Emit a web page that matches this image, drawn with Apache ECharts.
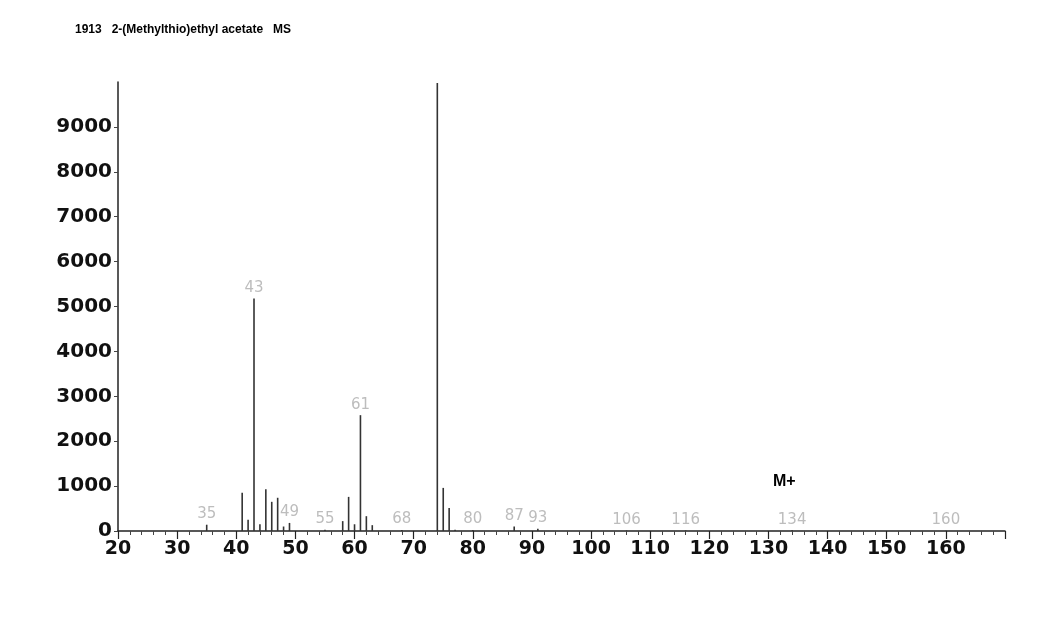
<!DOCTYPE html>
<html>
<head>
<meta charset="utf-8">
<script src="https://cdn.jsdelivr.net/npm/echarts@6/dist/echarts.min.js"></script>
<style>
html,body{margin:0;padding:0;background:#fff;}
#chart{width:1064px;height:635px;}
</style>
</head>
<body>
<div id="chart"></div>
<script>
// m/z values and intensities
const mz        = [35, 41, 42, 43, 44, 45, 46, 47, 48, 49, 55, 58, 59, 60, 61, 62, 63, 68, 74, 75, 76, 77, 80, 87, 91, 106, 116, 134, 160];
const intensity = [140, 850, 250, 5180, 150, 930, 650, 740, 100, 180, 30, 220, 760, 150, 2580, 330, 130, 20, 9980, 960, 510, 30, 20, 100, 50, 10, 10, 15, 5];
// peaks carrying a m/z label and the label text
const labelMz   = [35, 43, 49, 55, 61, 68, 80, 87, 91, 106, 116, 134, 160];
const labelText = ["35", "43", "49", "55", "61", "68", "80", "87", "93", "106", "116", "134", "160"];
const xTicks = [20, 30, 40, 50, 60, 70, 80, 90, 100, 110, 120, 130, 140, 150, 160];
const yTicks = [0, 1000, 2000, 3000, 4000, 5000, 6000, 7000, 8000, 9000];
const titleText = "1913   2-(Methylthio)ethyl acetate   MS";
const molIonText = "M+";

const data = mz.map((m, i) => {
  const li = labelMz.indexOf(m);
  const item = { value: [m, intensity[i]] };
  if (li >= 0) {
    item.label = { show: true, formatter: labelText[li] };
  }
  return item;
});

const chart = echarts.init(document.getElementById('chart'), null, { renderer: 'canvas' });
chart.setOption({
  animation: false,
  backgroundColor: '#ffffff',
  grid: { left: 118, right: 59, top: 82, bottom: 104, containLabel: false },
  xAxis: {
    type: 'value', min: 20, max: 170, interval: 10,
    axisLine: { show: true, onZero: false, lineStyle: { color: '#222', width: 1.5 } },
    axisTick: { show: true, inside: false, length: 8, lineStyle: { color: '#222', width: 1.2 } },
    minorTick: { show: true, splitNumber: 5, length: 4, lineStyle: { color: '#444', width: 1 } },
    splitLine: { show: false },
    axisLabel: {
      showMaxLabel: false, margin: 9,
      fontFamily: 'DejaVu Sans', fontWeight: 'bold', fontSize: 19, color: '#111',
      formatter: v => (xTicks.indexOf(v) >= 0 ? String(v) : '')
    }
  },
  yAxis: {
    type: 'value', min: 0, max: 10000, interval: 1000,
    axisLine: { show: true, lineStyle: { color: '#222', width: 1.5 } },
    axisTick: { show: true, inside: false, length: 4, lineStyle: { color: '#444', width: 1 } },
    splitLine: { show: false },
    axisLabel: {
      showMaxLabel: false, margin: 6,
      fontFamily: 'DejaVu Sans', fontWeight: 'bold', fontSize: 20, color: '#111',
      formatter: v => (yTicks.indexOf(v) >= 0 ? String(v) : '')
    }
  },
  series: [{
    type: 'bar',
    barWidth: 1.6,
    itemStyle: { color: '#333' },
    label: {
      show: false, position: 'top', distance: 3,
      fontFamily: 'DejaVu Sans', fontSize: 15, color: '#bdbdbd'
    },
    data: data
  }],
  graphic: [
    { type: 'text', left: 75, top: 24,
      style: { text: titleText, font: 'bold 12px "Liberation Sans", Arial, sans-serif', fill: '#000' } },
    { type: 'text', left: 773, top: 474,
      style: { text: molIonText, font: 'bold 16px "Liberation Sans", Arial, sans-serif', fill: '#000' } }
  ]
});
</script>
</body>
</html>
